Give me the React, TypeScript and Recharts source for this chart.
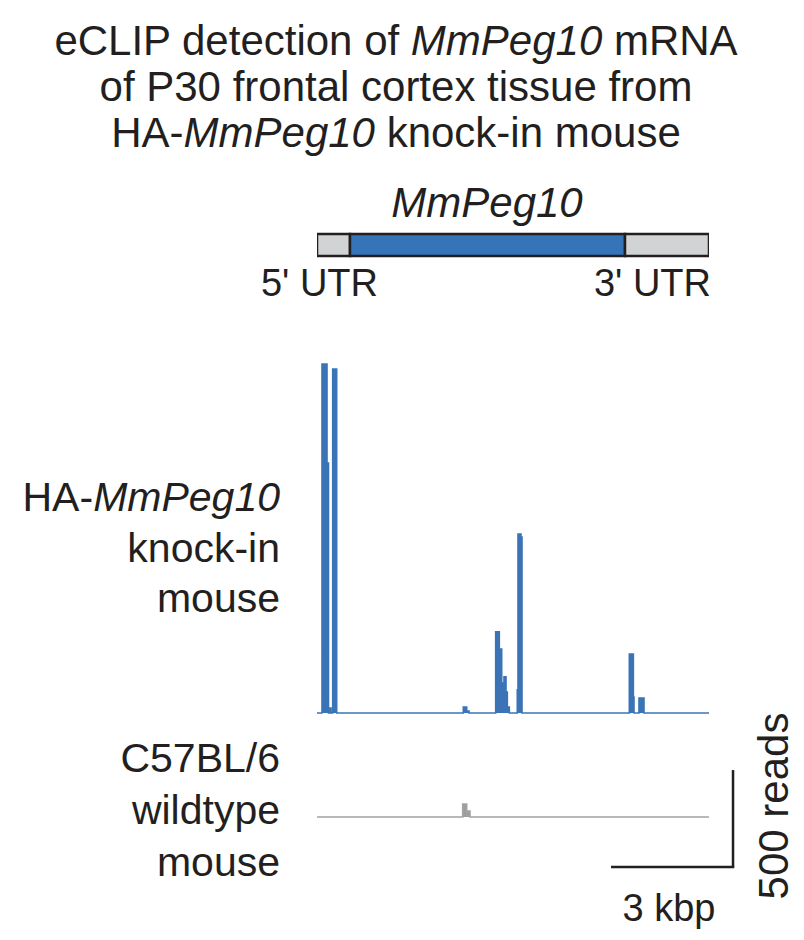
import { AreaChart, Area, BarChart, Bar, XAxis, YAxis, ReferenceLine } from 'recharts';

// genomic window shown, in kbp
const TRACK_KB = 9.639;

// gene model (kbp lengths along the window)
const geneParts = ["5' UTR", 'CDS', "3' UTR"];
const geneLengths = [0.811, 6.763, 2.065];
const geneColors = ['#d1d3d4', '#3574b9', '#d1d3d4'];

// HA-MmPeg10 knock-in eCLIP read coverage: segment start / end (kbp) and reads
const kiStart = [0.123, 0.246, 0.32, 0.386, 3.598, 3.681, 4.394, 4.483, 4.542, 4.598, 4.648, 4.68, 4.925, 4.943, 5.016, 7.68, 7.779, 7.918];
const kiEnd = [0.246, 0.283, 0.344, 0.484, 3.681, 3.738, 4.483, 4.542, 4.598, 4.648, 4.68, 4.729, 4.943, 5.016, 5.041, 7.779, 7.795, 8.041];
const kiReads = [1799, 1289, 26, 1773, 31, 10, 418, 330, 155, 186, 108, 31, 119, 923, 907, 304, 82, 77];

// C57BL/6 wildtype coverage
const wtStart = [3.583, 3.681];
const wtEnd = [3.681, 3.762];
const wtReads = [67, 31];

// scale bar
const SCALE_KB = 3;
const SCALE_READS = 500;

const PX_PER_KB = 122 / 3;
const PX_PER_READ = 97 / 500;
const TRACK_LEFT = 317;
const FONT = '"Liberation Sans", Arial, Helvetica, sans-serif';
const INK = '#231f20';

const toSteps = (starts: number[], ends: number[], reads: number[]) => {
  const pts: { x: number; y: number }[] = [{ x: 0, y: 0 }];
  starts.forEach((s, i) => {
    pts.push({ x: s, y: reads[i] });
    pts.push({ x: ends[i], y: 0 });
  });
  pts.push({ x: TRACK_KB, y: 0 });
  return pts;
};

const kiData = toSteps(kiStart, kiEnd, kiReads);
const wtData = toSteps(wtStart, wtEnd, wtReads);

const geneRow: Record<string, number | string> = { name: 'MmPeg10' };
geneParts.forEach((p, i) => (geneRow[p] = geneLengths[i]));

// upper track geometry
const KI_H = 366;
const KI_PAD = 6;
const KI_BASE = 713;
// lower track geometry
const WT_W = 428;
const WT_H = 115;
const WT_PAD = 55;
const WT_BASE = 817;
const SB_X = 10.23; // scale bar corner, kbp
const SB_Y = -258; // scale bar corner, reads

const GeneModel = () => (
  <BarChart
    width={TRACK_KB * PX_PER_KB + 4}
    height={30}
    layout="vertical"
    data={[geneRow]}
    margin={{ top: 4, right: 2, bottom: 4, left: 2 }}
    barCategoryGap={0}
  >
    <XAxis type="number" domain={[0, TRACK_KB]} hide allowDataOverflow />
    <YAxis type="category" dataKey="name" hide />
    {geneParts.map((p, i) => (
      <Bar key={p} dataKey={p} stackId="g" fill={geneColors[i]} stroke={INK} strokeWidth={2.5} isAnimationActive={false} />
    ))}
  </BarChart>
);

export default function App() {
  return (
    <div style={{ position: 'absolute', left: 0, top: 0, width: 804, height: 940, background: '#fff', fontFamily: FONT }}>
      <div style={{ position: 'absolute', left: TRACK_LEFT - 2, top: 230 }}>
        <GeneModel />
      </div>

      <div style={{ position: 'absolute', left: TRACK_LEFT, top: KI_BASE - (KI_H - KI_PAD) }}>
        <AreaChart width={TRACK_KB * PX_PER_KB} height={KI_H} data={kiData} margin={{ top: 0, right: 0, bottom: 0, left: 0 }}>
          <XAxis type="number" dataKey="x" domain={[0, TRACK_KB]} hide />
          <YAxis type="number" domain={[-KI_PAD / PX_PER_READ, (KI_H - KI_PAD) / PX_PER_READ]} hide />
          <Area
            type="stepAfter"
            dataKey="y"
            baseValue={0}
            stroke="#3b74b6"
            strokeWidth={1.6}
            fill="#3b74b6"
            fillOpacity={1}
            isAnimationActive={false}
          />
        </AreaChart>
      </div>

      <div style={{ position: 'absolute', left: TRACK_LEFT, top: WT_BASE - (WT_H - WT_PAD) }}>
        <AreaChart width={WT_W} height={WT_H} data={wtData} margin={{ top: 0, right: 0, bottom: 0, left: 0 }}>
          <XAxis type="number" dataKey="x" domain={[0, WT_W / PX_PER_KB]} hide />
          <YAxis type="number" domain={[-WT_PAD / PX_PER_READ, (WT_H - WT_PAD) / PX_PER_READ]} hide />
          <Area
            type="stepAfter"
            dataKey="y"
            baseValue={0}
            stroke="#a3a3a3"
            strokeWidth={1.6}
            fill="#9d9d9d"
            fillOpacity={1}
            isAnimationActive={false}
          />
          <ReferenceLine
            segment={[{ x: SB_X, y: SB_Y }, { x: SB_X, y: SB_Y + SCALE_READS }]}
            stroke={INK}
            strokeWidth={2.5}
          />
          <ReferenceLine
            segment={[{ x: SB_X - SCALE_KB, y: SB_Y }, { x: SB_X + 0.03, y: SB_Y }]}
            stroke={INK}
            strokeWidth={2.5}
          />
        </AreaChart>
      </div>

      <svg width={804} height={940} style={{ position: 'absolute', left: 0, top: 0, pointerEvents: 'none' }}>
        <g fill={INK} fontFamily={FONT}>
          <g fontSize={42} textAnchor="middle">
            <text x={396} y={55}>
              eCLIP detection of <tspan fontStyle="italic">MmPeg10</tspan> mRNA
            </text>
            <text x={396} y={101}>of P30 frontal cortex tissue from</text>
            <text x={396} y={147}>
              HA-<tspan fontStyle="italic">MmPeg10</tspan> knock-in mouse
            </text>
          </g>
          <text x={487} y={217} fontSize={42} fontStyle="italic" textAnchor="middle">MmPeg10</text>
          <text x={378} y={296} fontSize={38} textAnchor="end">5' UTR</text>
          <text x={711} y={296} fontSize={38} textAnchor="end">3' UTR</text>

          <g fontSize={41} textAnchor="end">
            <text x={280} y={511}>
              HA-<tspan fontStyle="italic">MmPeg10</tspan>
            </text>
            <text x={280} y={562}>knock-in</text>
            <text x={280} y={612}>mouse</text>
            <text x={280} y={772}>C57BL/6</text>
            <text x={280} y={824}>wildtype</text>
            <text x={280} y={876}>mouse</text>
          </g>

          <text x={669} y={921} fontSize={38} textAnchor="middle">3 kbp</text>
          <text x={788} y={806} fontSize={42} textAnchor="middle" transform="rotate(-90 788 806)">500 reads</text>
        </g>
      </svg>
    </div>
  );
}
